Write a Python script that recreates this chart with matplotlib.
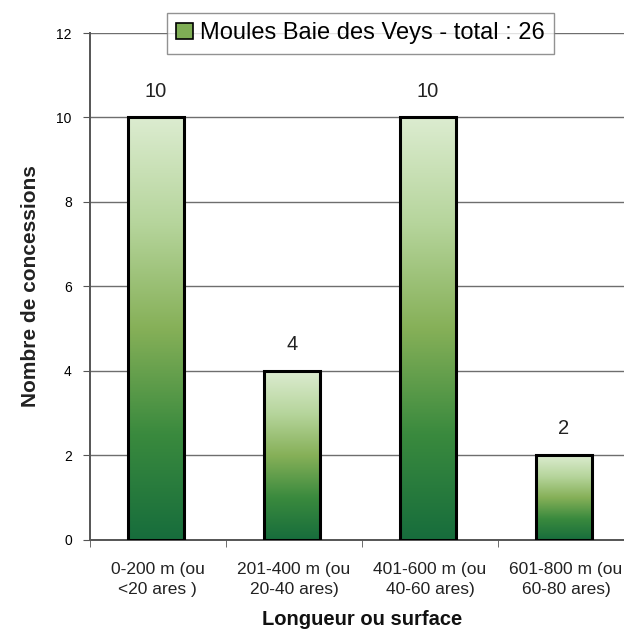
import numpy as np
import matplotlib.pyplot as plt
from matplotlib.colors import LinearSegmentedColormap
from matplotlib.patches import Rectangle

plt.rcParams['font.family'] = ['Liberation Sans', 'DejaVu Sans']

categories = ['0-200 m (ou\n<20 ares )', '201-400 m (ou\n20-40 ares)',
              '401-600 m (ou\n40-60 ares)', '601-800 m (ou\n60-80 ares)']
counts = [10, 4, 10, 2]
legend_label = 'Moules Baie des Veys - total : 26'

green = LinearSegmentedColormap.from_list(
    'grn', ['#176d3c', '#3a8a3e', '#86b058', '#b6d59c', '#dcecd0'])

fig = plt.figure(figsize=(6.24, 6.35), dpi=100)
ax = fig.add_axes([0.144, 0.150, 0.872, 0.798])

x = np.arange(len(categories))
width = 0.41
grad = np.linspace(0, 1, 256).reshape(-1, 1)

for xi, v in zip(x, counts):
    x0 = xi - width / 2 - 0.015
    ax.imshow(grad, cmap=green, origin='lower', aspect='auto',
              extent=(x0, x0 + width, 0, v), zorder=2)
    ax.add_patch(Rectangle((x0, 0), width, v, fill=False,
                           edgecolor='black', linewidth=2.2, zorder=3))
    ax.text(xi - 0.015, v + 0.4, str(v), ha='center', va='bottom',
            fontsize=14.5, color='#222222')

ax.set_xlim(-0.5, 3.5)
ax.set_ylim(0, 12)
ax.set_yticks(range(0, 13, 2))
ax.yaxis.grid(True, color='#6e6e6e', linewidth=1.0, zorder=0)
ax.set_axisbelow(True)

ax.set_xticks(x)
ax.set_xticklabels(categories, fontsize=12.5, color='#222222', linespacing=1.45)
ax.set_xticks(np.arange(-0.5, 3.6, 1), minor=True)
ax.tick_params(axis='x', which='major', length=0, pad=16)
ax.tick_params(axis='x', which='minor', length=5, color='#555555')
ax.tick_params(axis='y', length=5, color='#555555', labelsize=10, pad=8)

for s in ['top', 'right']:
    ax.spines[s].set_visible(False)
ax.spines['left'].set_color('#555555')
ax.spines['bottom'].set_color('#555555')
ax.spines['left'].set_linewidth(1.4)
ax.spines['bottom'].set_linewidth(1.4)

ax.set_ylabel('Nombre de concessions', fontsize=15, fontweight='bold',
              color='#222222', labelpad=12)
ax.set_xlabel('Longueur ou surface', fontsize=14.5, fontweight='bold',
              color='#111111', labelpad=9)

# legend box
proxy = Rectangle((0, 0), 1, 1, facecolor='#7fae55', edgecolor='black',
                  linewidth=1.2)
leg = ax.legend([proxy], [legend_label], loc='upper center',
                bbox_to_anchor=(0.497, 1.04), frameon=True, fancybox=False,
                fontsize=17, handlelength=0.7, handleheight=0.7,
                handletextpad=0.3, borderpad=0.4, borderaxespad=0)
leg.get_frame().set_edgecolor('#777777')
leg.get_frame().set_linewidth(1.0)
leg.set_zorder(5)

fig.savefig('out.png', dpi=100)
